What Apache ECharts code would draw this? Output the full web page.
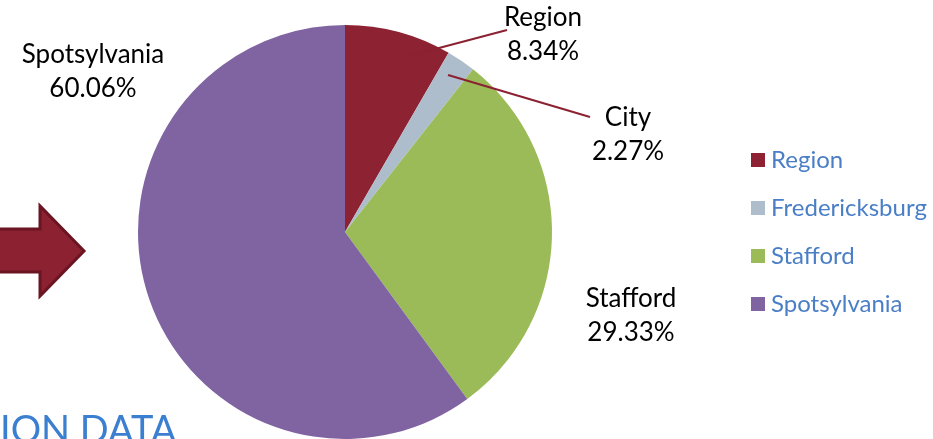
<!DOCTYPE html>
<html>
<head>
<meta charset="utf-8">
<script src="https://cdn.jsdelivr.net/npm/echarts@6/dist/echarts.min.js"></script>
<style>
  html, body { margin: 0; padding: 0; background: #fff; }
  #main { width: 933px; height: 439px; }
</style>
</head>
<body>
<div id="main"></div>
<script>
// slices, clockwise from 12 o'clock
const names = ['Region', 'Fredericksburg', 'Stafford', 'Spotsylvania'];
const labelNames = ['Region', 'City', 'Stafford', 'Spotsylvania'];
const values = [8.34, 2.27, 29.33, 60.06];
const colors = ['#8c2232', '#adbdcb', '#9bbb59', '#8064a2'];

// where each data label sits (centre of the two-line block)
const labelPos = [[543, 35], [628, 135], [631, 316], [93, 72]];
// leader lines (only the two small slices have one)
const leaders = [
  [[405, 57], [507, 30]],
  [[448, 75], [590, 117]]
];

const chart = echarts.init(document.getElementById('main'));
chart.setOption({
  animation: false,
  color: colors,
  textStyle: { fontFamily: 'Lato' },
  legend: {
    orient: 'vertical',
    left: 746,
    top: 143,
    itemWidth: 14,
    itemHeight: 14,
    itemGap: 24,
    icon: 'rect',
    data: names,
    textStyle: { fontFamily: 'Lato', fontSize: 24, color: '#4a7ec6', padding: [0, 0, 0, 1] }
  },
  graphic: [
    {
      type: 'polygon',
      shape: { points: [[-5, 229], [40, 229], [40, 206], [84, 251], [40, 296], [40, 272], [-5, 272]] },
      style: { fill: '#8b2131', stroke: '#6a1521', lineWidth: 3 }
    },
    {
      type: 'text',
      left: 0,
      top: 412,
      style: { text: 'ION DATA', font: '38px Lato', fill: '#3b7fd0' }
    }
  ].concat(leaders.map(pts => ({
    type: 'polyline',
    z: 100,
    shape: { points: pts },
    style: { stroke: '#8b2131', lineWidth: 2, fill: null }
  }))),
  series: [{
    type: 'pie',
    center: [345, 232],
    radius: 207,
    startAngle: 90,
    clockwise: true,
    data: names.map((n, i) => ({ name: n, value: values[i] })),
    label: {
      show: true,
      position: 'outside',
      overflow: 'none',
      fontFamily: 'Lato',
      fontSize: 26,
      lineHeight: 34,
      color: '#000',
      align: 'center',
      formatter: p => labelNames[p.dataIndex] + '\n' + values[p.dataIndex].toFixed(2) + '%'
    },
    labelLine: { show: false },
    labelLayout: function (params) {
      const pos = labelPos[params.dataIndex];
      return {
        x: pos[0],
        y: pos[1],
        align: 'center',
        verticalAlign: 'middle'
      };
    }
  }]
});
</script>
</body>
</html>
